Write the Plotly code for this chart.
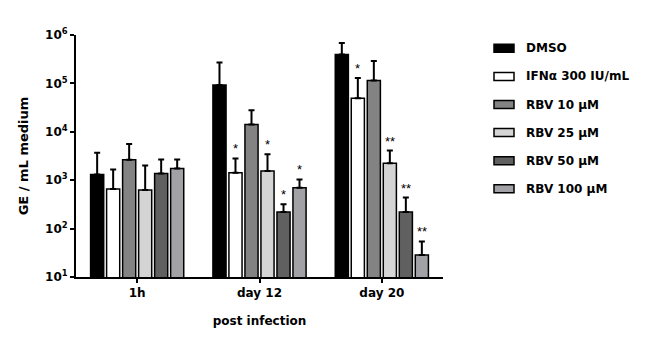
import math
import plotly.graph_objects as go

categories = ["1h", "day 12", "day 20"]
series_names = ["DMSO", "IFNα 300 IU/mL", "RBV 10 µM", "RBV 25 µM", "RBV 50 µM", "RBV 100 µM"]
colors = ["#000000", "#ffffff", "#838383", "#d4d4d4", "#606060", "#a2a2a6"]

dmso = [1310, 93000, 394000]
ifn = [660, 1430, 49400]
rbv10 = [2650, 14200, 115000]
rbv25 = [630, 1550, 2230]
rbv50 = [1375, 221, 221]
rbv100 = [1750, 697, 28.6]

dmso_top = [3700, 270000, 687000]
ifn_top = [1670, 2820, 130000]
rbv10_top = [5600, 27800, 290000]
rbv25_top = [2020, 3430, 4100]
rbv50_top = [2690, 319, 439]
rbv100_top = [2690, 1040, 54.3]

stars = [
    ["", "", ""],
    ["", "*", "*"],
    ["", "", ""],
    ["", "*", "**"],
    ["", "*", "**"],
    ["", "*", "**"],
]

values = [dmso, ifn, rbv10, rbv25, rbv50, rbv100]
tops = [dmso_top, ifn_top, rbv10_top, rbv25_top, rbv50_top, rbv100_top]

FONT = "DejaVu Sans, Arial, sans-serif"
STAR_FONT = "Liberation Sans, Arial, sans-serif"
W, H = 646, 342
ML, MR, MT, MB = 76, 203, 35, 65
PW, PH = W - ML - MR, H - MT - MB

fig = go.Figure()
for i, (name, vals, top, col) in enumerate(zip(series_names, values, tops, colors)):
    fig.add_trace(go.Bar(
        x=categories, y=vals, name=name, showlegend=False,
        marker=dict(color=col, line=dict(color="#000000", width=1.5)),
        error_y=dict(type="data", symmetric=False,
                     array=[t - v for t, v in zip(top, vals)],
                     arrayminus=[0] * len(vals),
                     color="#000000", thickness=2, width=3),
        offsetgroup=str(i),
    ))

n = len(series_names)
slot = 0.785 / n
annotations = []
for i in range(n):
    for j, cat in enumerate(categories):
        s = stars[i][j]
        if s:
            annotations.append(dict(
                x=j - 0.785 / 2 + slot * (i + 0.5), y=math.log10(tops[i][j]),
                xref="x", yref="y", text=s, showarrow=False,
                yanchor="bottom", yshift=0,
                font=dict(family=STAR_FONT, size=13, color="#000000"),
            ))

# manual legend (20x8 swatches)
shapes = []
row0, step = 48.3, 28.1
for i, (name, col) in enumerate(zip(series_names, colors)):
    cy = row0 + i * step
    x0p, x1p = 494, 514
    shapes.append(dict(
        type="rect", xref="paper", yref="paper",
        x0=(x0p - ML) / PW, x1=(x1p - ML) / PW,
        y0=(H - MB - (cy + 4)) / PH, y1=(H - MB - (cy - 4)) / PH,
        fillcolor=col, line=dict(color="#000000", width=1.5),
    ))
    annotations.append(dict(
        x=(524 - ML) / PW, y=(H - MB - cy) / PH, xref="paper", yref="paper",
        xanchor="left", yanchor="middle", showarrow=False,
        text="<b>" + name + "</b>",
        font=dict(family=FONT, size=12, color="#000000"),
    ))

fig.update_layout(
    width=W, height=H,
    margin=dict(l=ML, r=MR, t=MT, b=MB),
    paper_bgcolor="#ffffff", plot_bgcolor="#ffffff",
    barmode="group", bargap=0.215, bargroupgap=0.18,
    font=dict(family=FONT, size=12, color="#000000"),
    showlegend=False,
    annotations=annotations,
    shapes=shapes,
    xaxis=dict(
        type="category", range=[-0.5, 2.5],
        showline=True, linecolor="#000000", linewidth=2,
        ticks="outside", ticklen=4, tickwidth=2, tickcolor="#000000",
        tickfont=dict(family=FONT, size=12, color="#000000", weight="bold"),
        title=dict(text="<b>post infection</b>", font=dict(family=FONT, size=12, color="#000000"), standoff=17),
        showgrid=False, zeroline=False,
    ),
    yaxis=dict(
        type="log", range=[1, 6],
        tickvals=[10, 100, 1000, 10000, 100000, 1000000],
        ticktext=["<b>10<sup>1</sup></b>", "<b>10<sup>2</sup></b>", "<b>10<sup>3</sup></b>",
                  "<b>10<sup>4</sup></b>", "<b>10<sup>5</sup></b>", "<b>10<sup>6</sup></b>"],
        showline=True, linecolor="#000000", linewidth=2,
        ticks="outside", ticklen=4, tickwidth=2, tickcolor="#000000",
        tickfont=dict(family=FONT, size=12, color="#000000"),
        title=dict(text="<b>GE / mL medium</b>", font=dict(family=FONT, size=13, color="#000000"), standoff=14),
        showgrid=False, zeroline=False,
    ),
)

fig.write_html("out.html")
